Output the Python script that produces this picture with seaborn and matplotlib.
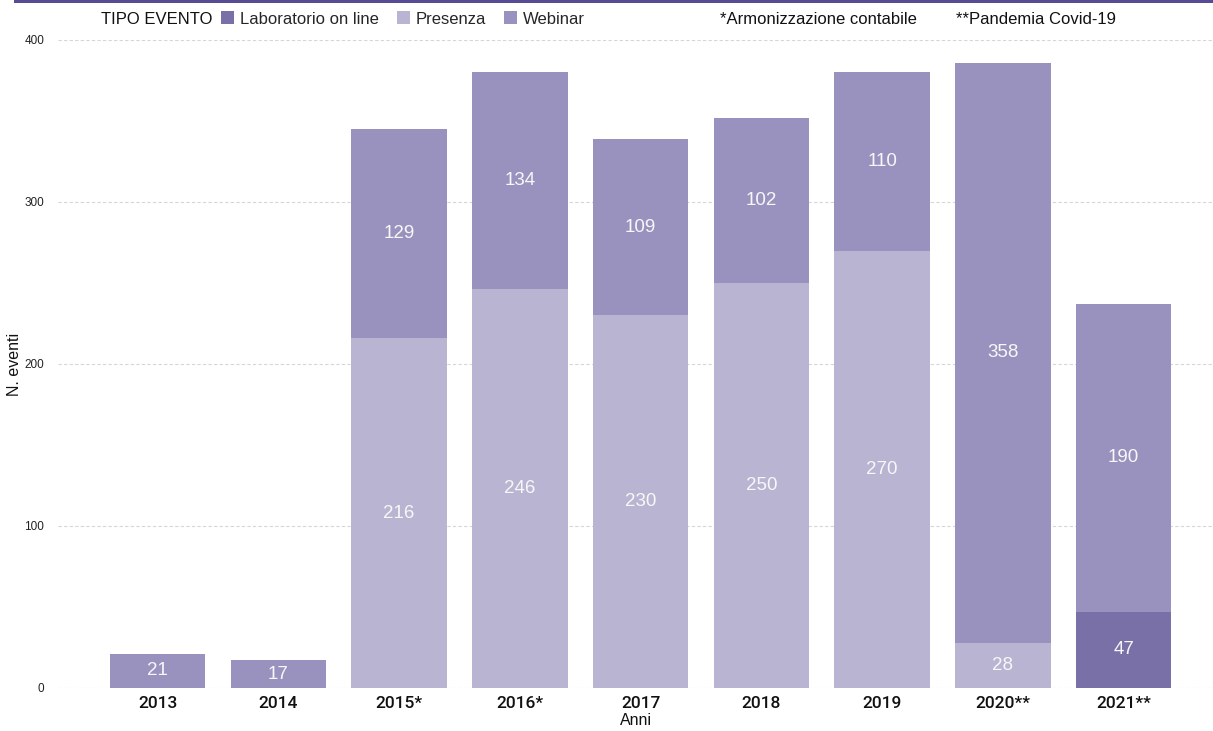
import numpy as np
import pandas as pd
import matplotlib
matplotlib.use("Agg")
import matplotlib.pyplot as plt
from matplotlib.patches import Patch, Rectangle
import seaborn as sns

# --- data -------------------------------------------------------------
anni = ["2013", "2014", "2015*", "2016*", "2017", "2018", "2019", "2020**", "2021**"]
laboratorio = [0, 0, 0, 0, 0, 0, 0, 0, 47]
presenza = [0, 0, 216, 246, 230, 250, 270, 28, 0]
webinar = [21, 17, 129, 134, 109, 102, 110, 358, 190]
tipi = ["Laboratorio on line", "Presenza", "Webinar"]
colori = ["#7a70a8", "#bab4d3", "#9a92be"]
note = ["*Armonizzazione contabile", "**Pandemia Covid-19"]

sns.set_theme(style="white")
plt.rcParams["font.family"] = ["Liberation Sans", "DejaVu Sans"]

df = pd.DataFrame({"Anni": anni,
                   tipi[0]: laboratorio,
                   tipi[1]: presenza,
                   tipi[2]: webinar})
# cumulative tops of each stacked layer
cum = df[tipi].cumsum(axis=1)

W, H = 1213, 731
fig = plt.figure(figsize=(W / 100, H / 100), dpi=100)
ax = fig.add_axes([58 / W, 1 - 688 / H, (W - 58) / W, (688 - 40) / H])

# draw from the tallest cumulative layer down so the bars appear stacked
for tipo, col in reversed(list(zip(tipi, colori))):
    sns.barplot(x=df["Anni"], y=cum[tipo], color=col, width=0.79,
                saturation=1, errorbar=None, linewidth=0, ax=ax, zorder=3)

# segment value labels
for i in range(len(anni)):
    base = 0
    for tipo in tipi:
        v = df.loc[i, tipo]
        if v > 0:
            ax.text(i, base + v / 2, f"{v}", ha="center", va="center",
                    color="#f7f7f7", fontsize=13.5, zorder=5)
        base += v

ax.set_xlim(-0.824, 8.74)
ax.set_ylim(0, 400)
ax.set_yticks([0, 100, 200, 300, 400])
ax.yaxis.grid(True, color="#d6d6d6", linestyle=(0, (3, 2)), linewidth=0.8, zorder=0)
ax.xaxis.grid(False)
for s in ax.spines.values():
    s.set_visible(False)
ax.tick_params(axis="y", length=0, labelsize=8.5, pad=10, labelcolor="#222222")
ax.tick_params(axis="x", length=0, labelsize=12.5, pad=6, labelcolor="#111111")
for lab in ax.get_xticklabels():
    lab.set_family(["Roboto", "Liberation Sans"])
    lab.set_fontweight("medium")
ax.set_xlabel("Anni", fontsize=11.5, labelpad=1, color="#111111")
ax.set_ylabel("N. eventi", fontsize=11.5, labelpad=1, color="#111111")
ax.yaxis.set_label_coords(-36 / (W - 58), 0.5)

# top rule
fig.add_artist(Rectangle((14 / W, 1 - 3 / H), 1 - 14 / W, 3 / H,
                         transform=fig.transFigure, color="#564b94", lw=0))

# legend row
fig.text(101 / W, 1 - 19 / H, "TIPO EVENTO", fontsize=12, va="center",
         ha="left", color="#111111")
handles = [Patch(facecolor=c, edgecolor="none") for c in colori]
fig.legend(handles, tipi, ncol=3, frameon=False, fontsize=12,
           loc="center left", bbox_to_anchor=(221 / W, 1 - 19 / H),
           handlelength=0.8, handleheight=0.8, handletextpad=0.35,
           columnspacing=1.05, borderpad=0, borderaxespad=0)
fig.text(720 / W, 1 - 19 / H, note[0], fontsize=12, va="center", ha="left", color="#111111")
fig.text(956 / W, 1 - 19 / H, note[1], fontsize=12, va="center", ha="left", color="#111111")

fig.savefig("out.png", dpi=100)
